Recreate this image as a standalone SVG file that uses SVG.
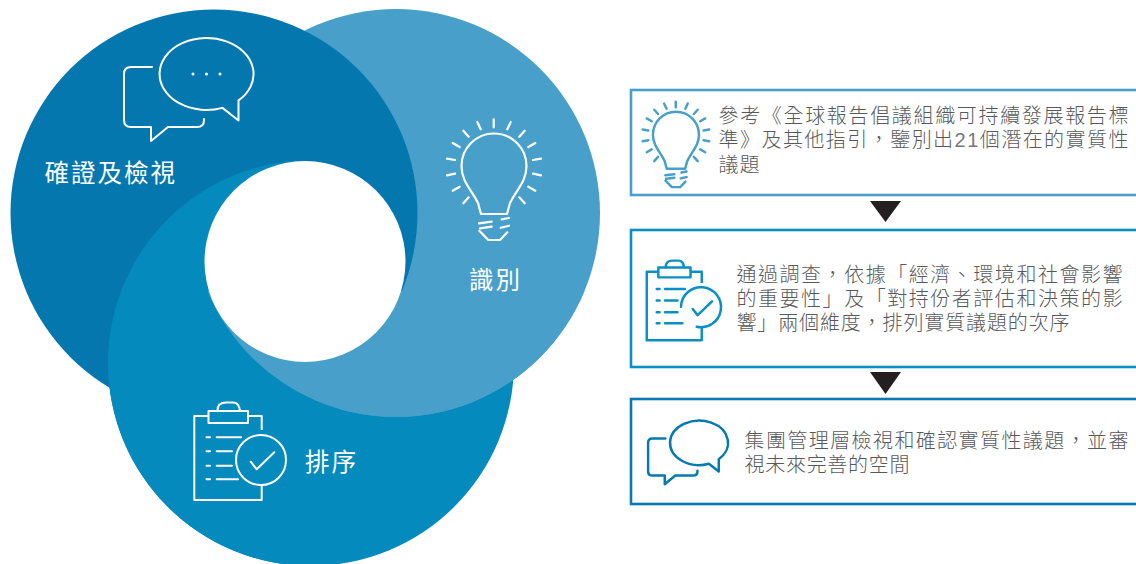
<svg xmlns="http://www.w3.org/2000/svg" xmlns:xlink="http://www.w3.org/1999/xlink" width="1136" height="564" viewBox="0 0 1136 564">
<style>
.i{fill:none;stroke-linecap:round;stroke-linejoin:round}
.lab{font-family:"Noto Sans CJK TC","Liberation Sans",sans-serif;font-size:24.500px;font-weight:400;fill:#fff;letter-spacing:2px}
.t{font-family:"Liberation Sans","Noto Sans CJK TC",sans-serif;font-size:20px;font-weight:300;fill:#58595b}
.box{fill:#fff;stroke-width:2.600}
</style>
<defs>
<clipPath id="leftHalf"><rect x="0" y="0" width="298" height="564"/><rect x="0" y="300" width="340" height="264"/></clipPath>
<clipPath id="lowerPart"><rect x="0" y="291" width="1136" height="273"/></clipPath>
<g id="chat">
<path d="M222.500 107.850A47 36 0 1 1 238.500 100.400V120.500Z"/>
<path d="M152 67H131Q124 67 124 74V120Q124 127 131 127H151V141L168 127H197Q204 127 204 120V119"/>
</g>
<g id="bulb">
<path d="M481 214L478 203C472 190 461.500 182 461.500 166A32.500 32.500 0 0 1 526.500 166C526.500 182 516 190 510 203L507 214Z"/>
<path d="M479 223.300L491.700 221.700M501.700 219.300L509 218M480 228.300L491.700 226.700M500.700 227.700L509 225.700M479.300 230.700L488.300 240H500L507.300 232.300"/>
<path d="M493.700 119.300V127.300M477.300 122L480.700 129.300M463.300 130.700L468.700 136.700M452.700 143L459.700 147M447 158.700L455 160M447 175.300L455 173.700M452.700 190.700L459.700 186.700M463.300 203.300L468.700 197.300M510.700 122L507.300 129.300M524.700 130.700L519.300 136.700M535.300 143L528.300 147M541 158.700L533 160M541 175.300L533 173.700M535.300 190.700L528.300 186.700M524.700 203.300L519.300 197.300"/>
</g>
<g id="clip">
<path stroke-linecap="butt" d="M208 416H194.300V500H261.700V485M247 416H261.700V430"/>
<rect x="208.500" y="411" width="39.500" height="12"/>
<path d="M217.500 410.500C217.500 404 222 402.500 226 402.500H233C238 402.500 239 406 240 410.500"/>
<path d="M206.500 437.300H210M216.700 437.300H241M206.500 451.300H210M216.700 451.300H232M206.500 465.700H210M216.700 465.700H232M206.500 479.300H210M216.700 479.300H238"/>
<path d="M250.700 461.700L256.700 469.300L274.300 452.300"/>
</g>
</defs>

<g id="venn">
<circle cx="311" cy="363" r="203" fill="#058abd"/>
<circle cx="396" cy="213" r="204" fill="#48a0ca"/>
<circle cx="214" cy="213" r="203.500" fill="#0478ae"/>
<circle cx="311" cy="363" r="203" fill="#058abd" clip-path="url(#leftHalf)"/>
<circle cx="396" cy="213" r="204" fill="#48a0ca" clip-path="url(#lowerPart)"/>
<circle cx="305" cy="261.500" r="100.500" fill="#fff"/>
</g>

<g id="node-verify">
<use href="#chat" class="i" stroke="#fff" stroke-width="2"/>
<circle cx="193" cy="74" r="1.500" fill="#fff"/><circle cx="206.500" cy="74" r="1.500" fill="#fff"/><circle cx="220" cy="74" r="1.500" fill="#fff"/>
<text class="lab" x="44.500" y="182">確證及檢視</text>
</g>
<g id="node-identify">
<use href="#bulb" class="i" stroke="#fff" stroke-width="2.200"/>
<text class="lab" x="469" y="289">識別</text>
</g>
<g id="node-rank">
<use href="#clip" class="i" stroke="#fff" stroke-width="2"/>
<circle cx="261" cy="460" r="25" class="i" stroke="#fff" stroke-width="2"/>
<text class="lab" x="305" y="471">排序</text>
</g>

<g id="connectors">
<path d="M870 201H901L885.500 222Z" fill="#231f20"/>
<path d="M870 372H901L885.500 394Z" fill="#231f20"/>
</g>

<g id="step-1">
<rect class="box" x="631" y="90" width="520" height="105" stroke="#48a0ca"/>
<use href="#bulb" class="i" transform="translate(326.200 17.200) scale(.708)" stroke="#48a0ca" stroke-width="3.500"/>
<text class="t" x="718.500" y="123" textLength="410">參考《全球報告倡議組織可持續發展報告標</text>
<text class="t" x="718.500" y="147" textLength="410">準》及其他指引，鑒別出<tspan fill="#77787b">21</tspan>個潛在的實質性</text>
<text class="t" x="718.500" y="172" textLength="41">議題</text>
</g>
<g id="step-2">
<rect class="box" x="631" y="230" width="520" height="137" stroke="#0a8fc4"/>
<use href="#clip" class="i" transform="translate(488.200 -67.800) scale(.816)" stroke="#0a8fc4" stroke-width="3"/>
<path class="i" d="M681 306.700A20 20 0 1 1 696.700 326.700" stroke="#0a8fc4" stroke-width="2.500"/>
<text class="t" x="736.500" y="282" textLength="386">通過調查，依據「經濟、環境和社會影響</text>
<text class="t" x="736.500" y="306" textLength="386">的重要性」及「對持份者評估和決策的影</text>
<text class="t" x="736.500" y="330" textLength="333">響」兩個維度，排列實質議題的次序</text>
</g>
<g id="step-3">
<rect class="box" x="631" y="399" width="520" height="105" stroke="#047ab0"/>
<use href="#chat" class="i" transform="translate(571.600 397.200) scale(.617)" stroke="#047ab0" stroke-width="4"/>
<text class="t" x="744.500" y="448" textLength="384">集團管理層檢視和確認實質性議題，並審</text>
<text class="t" x="744.500" y="472" textLength="165">視未來完善的空間</text>
</g>
</svg>
